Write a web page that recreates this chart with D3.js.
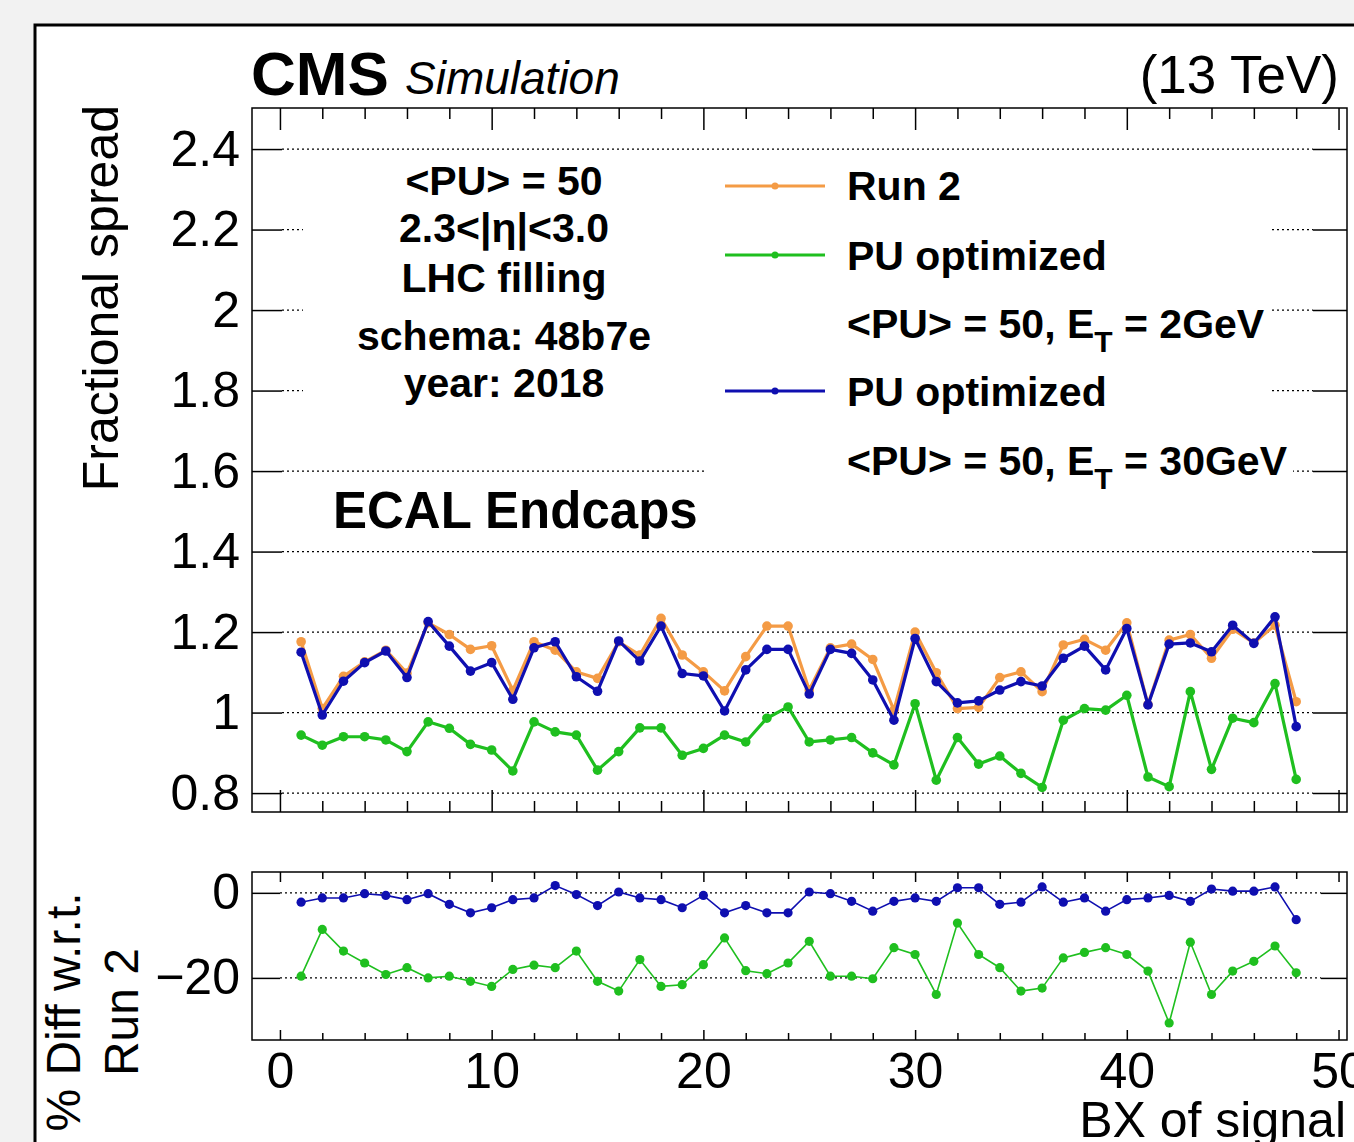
<!DOCTYPE html>
<html>
<head>
<meta charset="utf-8">
<script src="https://cdn.jsdelivr.net/npm/d3@7"></script>
<style>
  html, body { margin: 0; padding: 0; background: #f2f2f2; }
  svg { display: block; font-family: "Liberation Sans", Arial, Helvetica, sans-serif; }
</style>
</head>
<body>
<svg id="chart"></svg>
<script>
// BX index of the signal
const bx = [1, 2, 3, 4, 5, 6, 7, 8, 9, 10, 11, 12, 13, 14, 15, 16,
  17, 18, 19, 20, 21, 22, 23, 24, 25, 26, 27, 28, 29, 30, 31, 32,
  33, 34, 35, 36, 37, 38, 39, 40, 41, 42, 43, 44, 45, 46, 47, 48];

// Fractional spread, Run 2
const run2 = [1.176, 1.01, 1.09, 1.126, 1.155, 1.098, 1.223, 1.194, 1.157, 1.166, 1.055, 1.176, 1.155, 1.101, 1.085, 1.176,
  1.143, 1.234, 1.143, 1.101, 1.054, 1.139, 1.215, 1.215, 1.056, 1.161, 1.17, 1.132, 1.006, 1.2, 1.099, 1.01,
  1.013, 1.087, 1.101, 1.052, 1.168, 1.182, 1.155, 1.223, 1.02, 1.18, 1.194, 1.135, 1.207, 1.173, 1.217, 1.027];

// PU optimized, ET = 2 GeV
const puOpt2 = [0.944, 0.919, 0.94, 0.94, 0.932, 0.903, 0.977, 0.961, 0.921, 0.907, 0.855, 0.977, 0.952, 0.944, 0.857, 0.903,
  0.962, 0.962, 0.894, 0.911, 0.944, 0.927, 0.986, 1.014, 0.927, 0.932, 0.938, 0.9, 0.87, 1.022, 0.832, 0.938,
  0.872, 0.892, 0.849, 0.814, 0.981, 1.01, 1.006, 1.043, 0.84, 0.816, 1.052, 0.859, 0.986, 0.975, 1.072, 0.834];

// PU optimized, ET = 30 GeV
const puOpt30 = [1.15, 0.994, 1.078, 1.124, 1.153, 1.087, 1.226, 1.165, 1.103, 1.124, 1.033, 1.161, 1.176, 1.089, 1.053, 1.178,
  1.128, 1.215, 1.097, 1.091, 1.004, 1.106, 1.157, 1.157, 1.046, 1.157, 1.147, 1.081, 0.981, 1.184, 1.077, 1.024,
  1.029, 1.056, 1.077, 1.066, 1.135, 1.165, 1.106, 1.209, 1.019, 1.17, 1.173, 1.151, 1.217, 1.172, 1.238, 0.965];

// % difference w.r.t. Run 2
const diff2 = [-19.6, -8.6, -13.7, -16.5, -19.2, -17.6, -20.0, -19.6, -20.8, -22.0, -18.0, -17.0, -17.6, -13.7, -20.8, -23.1,
  -15.7, -22.0, -21.6, -16.9, -10.6, -18.3, -19.0, -16.5, -11.4, -19.6, -19.6, -20.2, -12.9, -14.5, -23.9, -7.1,
  -14.5, -17.6, -23.1, -22.4, -15.3, -14.0, -12.9, -14.5, -18.4, -30.6, -11.6, -23.9, -18.4, -16.1, -12.5, -18.8];
const diff30 = [-2.2, -1.2, -1.2, -0.2, -0.6, -1.6, -0.2, -2.7, -4.7, -3.5, -1.6, -1.2, 1.7, -0.4, -3.0, 0.2,
  -1.2, -1.6, -3.5, -0.6, -4.7, -3.0, -4.7, -4.7, 0.2, -0.2, -2.0, -4.3, -2.0, -1.2, -2.0, 1.2,
  1.2, -2.7, -2.2, 1.4, -2.2, -1.2, -4.3, -1.6, -1.2, -0.6, -2.0, 0.9, 0.4, 0.4, 1.4, -6.3];

// Axis ticks
const xMajorTicks = [0, 10, 20, 30, 40, 50];
const xMinorTicks = [2, 4, 6, 8, 12, 14, 16, 18, 22, 24, 26, 28, 32, 34, 36, 38, 42, 44, 46, 48];
const yMainTicks = [0.8, 1.0, 1.2, 1.4, 1.6, 1.8, 2.0, 2.2, 2.4];
const yRatioTicks = [-20, 0];

const infoLines = ["<PU> = 50", "2.3<|\u03b7|<3.0", "LHC filling", "schema: 48b7e", "year: 2018"];

const W = 1354, H = 1142;
const FONT = "\"Liberation Sans\", Arial, Helvetica, sans-serif";
const ORANGE = "#f49b45", GREEN = "#1fbf1f", BLUE = "#0f0fb0";

const svg = d3.select("#chart").attr("width", W).attr("height", H);

// canvas border
svg.append("rect").attr("x", 0).attr("y", 0).attr("width", W).attr("height", H).attr("fill", "#f2f2f2");
svg.append("rect").attr("x", 35).attr("y", 25).attr("width", W + 20).attr("height", H + 20)
  .attr("fill", "#fff").attr("stroke", "#000").attr("stroke-width", 3);

// Panels
const main = { left: 252, right: 1347, top: 108, bottom: 812 };
const ratio = { left: 252, right: 1347, top: 872, bottom: 1040 };

const x = d3.scaleLinear().domain([-1.32, 50.4]).range([main.left, main.right]);
const yMain = d3.scaleLinear().domain([0.753, 2.502]).range([main.bottom, main.top]);
const yRatio = d3.scaleLinear().domain([-34.6, 4.9]).range([ratio.bottom, ratio.top]);

// ---------- main panel ----------
const gMain = svg.append("g");

// dotted grid
gMain.selectAll("line.grid")
  .data(yMainTicks)
  .enter().append("line")
    .attr("class", "grid")
    .attr("x1", main.left + 30).attr("x2", main.right - 34)
    .attr("y1", d => yMain(d)).attr("y2", d => yMain(d))
    .attr("stroke", "#000").attr("stroke-width", 1.2)
    .attr("stroke-dasharray", "2,3");

// white boxes of the text panes (hide the grid)
gMain.append("rect").attr("x", 303).attr("y", 156).attr("width", 402).attr("height", 308).attr("fill", "#fff");
gMain.append("rect").attr("x", 705).attr("y", 156).attr("width", 566).attr("height", 340).attr("fill", "#fff");
gMain.append("rect").attr("x", 1265).attr("y", 440).attr("width", 28).attr("height", 50).attr("fill", "#fff");

function styleAxis(g, size) {
  g.select(".domain").remove();
  g.selectAll("line").attr("stroke", "#000").attr("stroke-width", 1.5);
  g.selectAll("text").attr("fill", "#000").style("font-family", FONT).style("font-size", size + "px");
}

// x ticks, top (pointing down) and bottom (pointing up) of main panel, no labels
function inwardTicks(g, yPos, values, len) {
  const dir = yPos === main.top ? 1 : -1;
  g.append("g").attr("transform", `translate(0,${yPos})`)
    .call(d3.axisBottom(x).tickValues(values).tickSize(dir * len).tickFormat(""))
    .call(a => styleAxis(a, 10));
}
inwardTicks(gMain, main.top, xMajorTicks, 22);
inwardTicks(gMain, main.top, xMinorTicks, 11);
inwardTicks(gMain, main.bottom, xMajorTicks, 22);
inwardTicks(gMain, main.bottom, xMinorTicks, 11);

// y axis main
gMain.append("g").attr("transform", `translate(${main.left},0)`)
  .call(d3.axisLeft(yMain).tickValues(yMainTicks).tickSizeInner(-30).tickSizeOuter(0).tickPadding(12)
    .tickFormat(d => d3.format("~g")(d)))
  .call(g => styleAxis(g, 50));
gMain.append("g").attr("transform", `translate(${main.right},0)`)
  .call(d3.axisRight(yMain).tickValues(yMainTicks).tickSizeInner(-34).tickSizeOuter(0).tickFormat(""))
  .call(g => styleAxis(g, 10));

// frame
gMain.append("rect").attr("x", main.left).attr("y", main.top)
  .attr("width", main.right - main.left).attr("height", main.bottom - main.top)
  .attr("fill", "none").attr("stroke", "#000").attr("stroke-width", 1.5);

// series
const seriesMain = [
  { vals: run2, color: ORANGE },
  { vals: puOpt2, color: GREEN },
  { vals: puOpt30, color: BLUE }
];
const lineMain = d3.line().x(d => x(d[0])).y(d => yMain(d[1]));
seriesMain.forEach(s => {
  const pts = bx.map((b, i) => [b, s.vals[i]]);
  gMain.append("path").datum(pts).attr("d", lineMain)
    .attr("fill", "none").attr("stroke", s.color).attr("stroke-width", 3.2)
    .attr("stroke-linejoin", "round");
  gMain.selectAll(null).data(pts).enter().append("circle")
    .attr("cx", d => x(d[0])).attr("cy", d => yMain(d[1])).attr("r", 4.8)
    .attr("fill", s.color);
});

// info text
gMain.selectAll("text.info")
  .data(infoLines)
  .enter().append("text")
    .attr("class", "info")
    .attr("x", 504)
    .attr("y", (d, i) => [195, 242, 292, 350, 397][i])
    .attr("text-anchor", "middle")
    .style("font-family", FONT).style("font-weight", "bold").style("font-size", "41px")
    .text(d => d);

gMain.append("text").attr("x", 333).attr("y", 528)
  .style("font-family", FONT).style("font-weight", "bold").style("font-size", "51px")
  .text("ECAL Endcaps");

// legend
const legendEntries = [
  { color: ORANGE, y: 186 },
  { color: GREEN, y: 255 },
  { color: BLUE, y: 391 }
];
legendEntries.forEach(e => {
  gMain.append("line").attr("x1", 725).attr("x2", 825).attr("y1", e.y).attr("y2", e.y)
    .attr("stroke", e.color).attr("stroke-width", 3);
  gMain.append("circle").attr("cx", 775).attr("cy", e.y).attr("r", 3.5).attr("fill", e.color);
});
const legText = (y, txt) => gMain.append("text").attr("x", 847).attr("y", y)
  .style("font-family", FONT).style("font-weight", "bold").style("font-size", "41px").text(txt);
legText(200, "Run 2");
legText(270, "PU optimized");
legText(406, "PU optimized");
[[338, "2GeV"], [475, "30GeV"]].forEach(([y, et]) => {
  const t = gMain.append("text").attr("x", 847).attr("y", y)
    .style("font-family", FONT).style("font-weight", "bold").style("font-size", "41px");
  t.append("tspan").text("<PU> = 50, E");
  t.append("tspan").attr("dy", 14).style("font-size", "30px").text("T");
  t.append("tspan").attr("dy", -14).text(" = " + et);
});

// header
svg.append("text").attr("x", 251).attr("y", 95)
  .style("font-family", FONT).style("font-weight", "bold").style("font-size", "62px").text("CMS");
svg.append("text").attr("x", 405).attr("y", 94)
  .style("font-family", FONT).style("font-style", "italic").style("font-size", "46px").text("Simulation");
svg.append("text").attr("x", 1339).attr("y", 93).attr("text-anchor", "end")
  .style("font-family", FONT).style("font-size", "53px").text("(13 TeV)");

svg.append("text")
  .attr("transform", "translate(118,105) rotate(-90)")
  .attr("text-anchor", "end")
  .style("font-family", FONT).style("font-size", "50px")
  .text("Fractional spread");

// ---------- ratio panel ----------
const gRatio = svg.append("g");

gRatio.selectAll("line.grid")
  .data(yRatioTicks)
  .enter().append("line")
    .attr("x1", ratio.left + 28).attr("x2", ratio.right - 26)
    .attr("y1", d => yRatio(d)).attr("y2", d => yRatio(d))
    .attr("stroke", "#000").attr("stroke-width", 1.2)
    .attr("stroke-dasharray", "2,3");

// x ticks top (down) and bottom (up, with labels)
gRatio.append("g").attr("transform", `translate(0,${ratio.top})`)
  .call(d3.axisTop(x).tickValues(xMajorTicks).tickSize(-10).tickFormat(""))
  .call(g => styleAxis(g, 10));
gRatio.append("g").attr("transform", `translate(0,${ratio.top})`)
  .call(d3.axisTop(x).tickValues(xMinorTicks).tickSize(-7).tickFormat(""))
  .call(g => styleAxis(g, 10));
gRatio.append("g").attr("transform", `translate(0,${ratio.bottom})`)
  .call(d3.axisBottom(x).tickValues(xMajorTicks).tickSizeInner(-10).tickSizeOuter(0).tickPadding(12))
  .call(g => styleAxis(g, 50));
gRatio.append("g").attr("transform", `translate(0,${ratio.bottom})`)
  .call(d3.axisBottom(x).tickValues(xMinorTicks).tickSize(-7).tickFormat(""))
  .call(g => styleAxis(g, 10));

gRatio.append("g").attr("transform", `translate(${ratio.left},0)`)
  .call(d3.axisLeft(yRatio).tickValues(yRatioTicks).tickSizeInner(-28).tickSizeOuter(0).tickPadding(12)
    .tickFormat(d => d < 0 ? "\u2212" + Math.abs(d) : d))
  .call(g => styleAxis(g, 50));
gRatio.append("g").attr("transform", `translate(${ratio.right},0)`)
  .call(d3.axisRight(yRatio).tickValues(yRatioTicks).tickSizeInner(-26).tickSizeOuter(0).tickFormat(""))
  .call(g => styleAxis(g, 10));

gRatio.append("rect").attr("x", ratio.left).attr("y", ratio.top)
  .attr("width", ratio.right - ratio.left).attr("height", ratio.bottom - ratio.top)
  .attr("fill", "none").attr("stroke", "#000").attr("stroke-width", 1.5);

const lineRatio = d3.line().x(d => x(d[0])).y(d => yRatio(d[1]));
[{ vals: diff2, color: GREEN }, { vals: diff30, color: BLUE }].forEach(s => {
  const pts = bx.map((b, i) => [b, s.vals[i]]);
  gRatio.append("path").datum(pts).attr("d", lineRatio)
    .attr("fill", "none").attr("stroke", s.color).attr("stroke-width", 1.6);
  gRatio.selectAll(null).data(pts).enter().append("circle")
    .attr("cx", d => x(d[0])).attr("cy", d => yRatio(d[1])).attr("r", 4.6)
    .attr("fill", s.color);
});

svg.append("text").attr("x", 1346).attr("y", 1137).attr("text-anchor", "end")
  .style("font-family", FONT).style("font-size", "50px").text("BX of signal");

const yl = svg.append("text")
  .attr("transform", "translate(0,1012) rotate(-90)")
  .attr("text-anchor", "middle")
  .style("font-family", FONT).style("font-size", "48px");
yl.append("tspan").attr("x", 0).attr("y", 80).text("% Diff w.r.t.");
yl.append("tspan").attr("x", 0).attr("y", 138).text("Run 2");
</script>
</body>
</html>
